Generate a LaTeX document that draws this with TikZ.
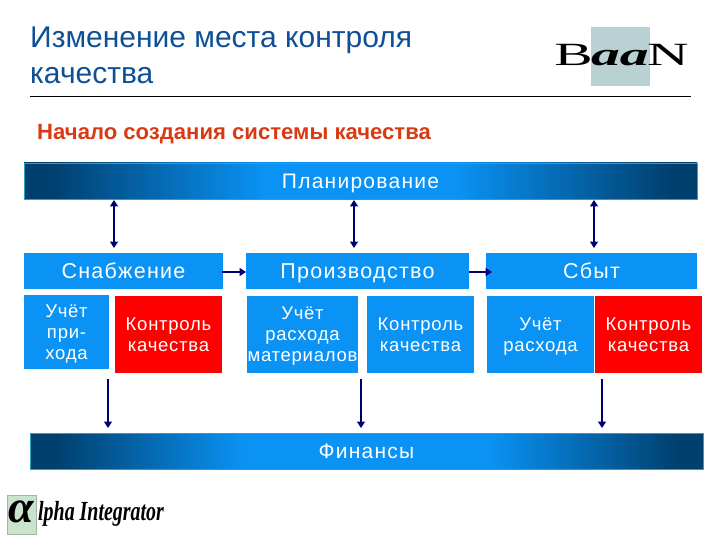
\documentclass[tikz,border=0pt]{standalone}
\usepackage{fontspec}
\setmainfont{Liberation Sans}
\newfontfamily\logofont{Liberation Serif}
\newfontfamily\wideA[LetterSpace=6]{Liberation Sans}
\newfontfamily\wideB[LetterSpace=4]{Liberation Sans}
\usetikzlibrary{arrows.meta}
\definecolor{barblue}{HTML}{0A93F5}
\definecolor{bardark}{HTML}{00406F}
\definecolor{navy}{HTML}{000070}
\definecolor{subred}{HTML}{D93A14}
\definecolor{titleblue}{HTML}{0F4F96}
\definecolor{teallogo}{HTML}{B9D1D3}
\definecolor{greenlogo}{HTML}{CBE2CC}
\definecolor{baredge}{HTML}{2A9FC8}
\newcommand{\strA}{\rule[-5pt]{0pt}{25pt}}
\newcommand{\strB}{\rule[-3pt]{0pt}{19pt}}
\pgfdeclarehorizontalshading{plansh}{100bp}{color(0bp)=(bardark); color(27bp)=(bardark); color(43bp)=(barblue); color(57bp)=(barblue); color(73bp)=(bardark); color(100bp)=(bardark)}
\pgfdeclarehorizontalshading{finsh}{100bp}{color(0bp)=(bardark); color(27bp)=(bardark); color(41bp)=(barblue); color(59bp)=(barblue); color(73bp)=(bardark); color(100bp)=(bardark)}
\tikzset{
  box/.style={fill=barblue,text=white,inner sep=0pt,align=center,font=\wideB\fontsize{18.5}{21}\selectfont},
  redbox/.style={box,fill=red},
  bar/.style={box,draw=baredge,line width=0.6pt,font=\wideA\fontsize{21}{25}\selectfont},
  head/.style={box,font=\wideA\fontsize{21.5}{25}\selectfont},
  link/.style={draw=navy,line width=1.5pt},
  both/.style={link,{Triangle[length=6.5pt,width=8pt]}-{Triangle[length=6.5pt,width=8pt]}},
  right arr/.style={link,line width=2pt,-{Triangle[length=6.5pt,width=8pt]}},
  down/.style={link,-{Triangle[length=6.5pt,width=8pt]}},
}
\begin{document}
\begin{tikzpicture}[x=1pt,y=-1pt]
\useasboundingbox (0,0) rectangle (720,540);
\node[anchor=north west,inner sep=0pt,align=left,font=\fontsize{30}{36}\selectfont,text=titleblue] (title) at (30,27) {Изменение места контроля\\качества};
\coordinate (ruleL) at (30,96.5);
\coordinate (ruleR) at (691,96.5);
\draw[line width=0.7pt] (ruleL) -- (ruleR);
\node[anchor=west,inner sep=0pt,text=subred,font=\bfseries\fontsize{22.1}{26}\selectfont] (sub) at (37,134) {\strut Начало создания системы качества};
% Baan logo
\node[fill=teallogo,minimum width=59pt,minimum height=59pt,inner sep=0pt] (logoa) at (620.5,56.5) {};
\node[inner sep=0pt,font=\logofont\fontsize{36}{36}\selectfont] (logob) at (621.5,55) {\scalebox{1.6}[0.9]{B\kern-1pt\textbf{\textit{aa}}\kern-1pt N}};
% Alpha logo
\node[fill=greenlogo,draw=greenlogo!80!black,line width=0.4pt,minimum width=29pt,minimum height=39pt,inner sep=0pt] (logoc) at (21.5,515) {};
\node[inner sep=0pt,font=\logofont\bfseries\itshape\fontsize{46}{46}\selectfont] (logod) at (21.5,512) {α};
\node[anchor=west,inner sep=0pt,font=\logofont\bfseries\itshape\fontsize{24}{24}\selectfont] (logoe) at (38,514) {\scalebox{0.83}[1.15]{lpha Integrator}};
% bars
\node[bar,shading=plansh,minimum width=673pt,minimum height=36pt] (plan) at (360.5,181) {\strA Планирование};
\node[bar,shading=finsh,minimum width=673pt,minimum height=36pt] (fin) at (366.5,451) {\strA Финансы};
% heads
\node[head,minimum width=199pt,minimum height=36pt] (snab) at (123.5,271) {\strA Снабжение};
\node[head,minimum width=223pt,minimum height=36pt] (prod) at (357.5,271) {\strA Производство};
\node[head,minimum width=211pt,minimum height=36pt] (sbyt) at (591.5,271) {\strA Сбыт};
% sub boxes
\node[box,minimum width=85pt,minimum height=74pt] (u1) at (66.5,332) {\strB Учёт\\при-\\хода\strB};
\node[redbox,minimum width=107pt,minimum height=77pt] (k1) at (168.5,334.5) {\strB Контроль\\качества\strB};
\node[box,minimum width=111pt,minimum height=77pt] (u2) at (302.5,334.5) {\strB Учёт\\расхода\\материалов\strB};
\node[box,minimum width=107pt,minimum height=77pt] (k2) at (420.5,334.5) {\strB Контроль\\качества\strB};
\node[box,minimum width=107pt,minimum height=77pt] (u3) at (540.5,334.5) {\strB Учёт\\расхода\strB};
\node[redbox,minimum width=107pt,minimum height=77pt] (k3) at (648.5,334.5) {\strB Контроль\\качества\strB};
% connectors
\coordinate (p1) at (114,200); \coordinate (s1) at (114,248);
\coordinate (p2) at (354,200); \coordinate (s2) at (354,248);
\coordinate (p3) at (594,200); \coordinate (s3) at (594,248);
\draw[both] (p1) -- (s1);
\draw[both] (p2) -- (s2);
\draw[both] (p3) -- (s3);
\coordinate (h1) at (222,272); \coordinate (h2) at (246,272);
\coordinate (h3) at (469,272); \coordinate (h4) at (492,272);
\draw[right arr] (h1) -- (h2);
\draw[right arr] (h3) -- (h4);
\coordinate (d1a) at (108,379); \coordinate (d1b) at (108,428);
\coordinate (d2a) at (361,379); \coordinate (d2b) at (361,428);
\coordinate (d3a) at (602,379); \coordinate (d3b) at (602,428);
\draw[down] (d1a) -- (d1b);
\draw[down] (d2a) -- (d2b);
\draw[down] (d3a) -- (d3b);
\end{tikzpicture}
\end{document}
